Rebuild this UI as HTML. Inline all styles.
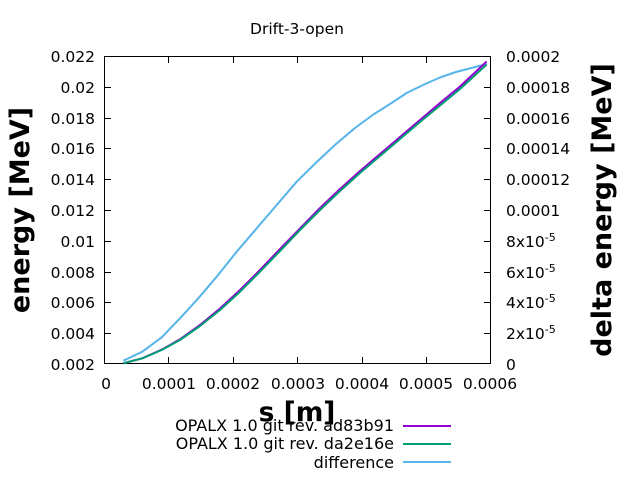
<!DOCTYPE html>
<html><head><style>
body{margin:0;background:#fff;}
svg{display:block;font-family:"DejaVu Sans","Liberation Sans",sans-serif;}
</style></head><body>
<svg width="640" height="480" viewBox="0 0 640 480">
<rect width="640" height="480" fill="#fff"/>
<text x="297" y="34" font-size="15.5" text-anchor="middle">Drift-3-open</text>
<rect x="104.5" y="56.5" width="386" height="307" fill="none" stroke="#000" stroke-width="1"/>
<g stroke="#000" stroke-width="1">
<path d="M168.5 364v-7M168.5 56v7M233.5 364v-7M233.5 56v7M297.5 364v-7M297.5 56v7M362.5 364v-7M362.5 56v7M426.5 364v-7M426.5 56v7"/>
<path d="M104 87.5h7M104 118.5h7M104 148.5h7M104 179.5h7M104 210.5h7M104 241.5h7M104 272.5h7M104 302.5h7M104 333.5h7"/>
<path d="M491 87.5h-7M491 118.5h-7M491 148.5h-7M491 179.5h-7M491 210.5h-7M491 241.5h-7M491 272.5h-7M491 302.5h-7M491 333.5h-7"/>
</g>
<g font-size="15.5" text-anchor="end">
<text x="95" y="62">0.022</text><text x="95" y="93">0.02</text><text x="95" y="124">0.018</text><text x="95" y="154">0.016</text><text x="95" y="185">0.014</text><text x="95" y="216">0.012</text><text x="95" y="247">0.01</text><text x="95" y="278">0.008</text><text x="95" y="308">0.006</text><text x="95" y="339">0.004</text><text x="95" y="370">0.002</text>
</g>
<g font-size="15.5">
<text x="506" y="62">0.0002</text><text x="506" y="93">0.00018</text><text x="506" y="124">0.00016</text><text x="506" y="154">0.00014</text><text x="506" y="185">0.00012</text><text x="506" y="216">0.0001</text><text x="506" y="247">8x10<tspan dy="-6" font-size="11">-5</tspan></text><text x="506" y="278">6x10<tspan dy="-6" font-size="11">-5</tspan></text><text x="506" y="308">4x10<tspan dy="-6" font-size="11">-5</tspan></text><text x="506" y="339">2x10<tspan dy="-6" font-size="11">-5</tspan></text><text x="506" y="370">0</text>
</g>
<g font-size="15.5" text-anchor="middle">
<text x="106" y="389">0</text><text x="169" y="389">0.0001</text><text x="233" y="389">0.0002</text><text x="298" y="389">0.0003</text><text x="362" y="389">0.0004</text><text x="426" y="389">0.0005</text><text x="490" y="389">0.0006</text>
</g>
<text x="297" y="421" font-size="26.5" font-weight="bold" text-anchor="middle">s [m]</text>
<text transform="translate(29,210) rotate(-90)" font-size="27" font-weight="bold" text-anchor="middle">energy [MeV]</text>
<text transform="translate(611,210) rotate(-90)" font-size="27" font-weight="bold" text-anchor="middle">delta energy [MeV]</text>
<g fill="none" stroke-width="2" stroke-linejoin="round">
<polyline stroke="#56b4e9" points="123.3,360.7 142.3,351.7 161.7,337.3 180,318.3 198.3,298.3 216.7,276.7 236.7,251.7 256.7,228.3 276.7,205 296.7,181.7 316.7,162 336,144 355,128 373.3,114.5 390,104 406.7,93 423,85 440,77.5 456,72 473.3,67.5 486.7,64"/>
<polyline stroke="#9400d3" points="123.3,363.3 142.3,358.3 161.7,349.7 180,339.3 200,325 220,308.5 240,290 260,270 280,249 300,228.5 320,208 340,189 360,171 380,154 400,137 420,120 440,103 460,86.5 486.7,61.5"/>
<polyline stroke="#009e73" points="123.3,363.3 142.3,358.3 161.7,350 180,340 200,326 220,310 240,291.7 260,271.7 280,251 300,230 320,210 340,191 360,173 380,156 400,139 420,122 440,105.5 460,89 486.7,64.5"/>
</g>
<g font-size="16" text-anchor="end">
<text x="394" y="431">OPALX 1.0 git rev. ad83b91</text>
<text x="394" y="449">OPALX 1.0 git rev. da2e16e</text>
<text x="394" y="468">difference</text>
</g>
<g stroke-width="2">
<line x1="403" y1="426" x2="451" y2="426" stroke="#9400d3"/>
<line x1="403" y1="444" x2="451" y2="444" stroke="#009e73"/>
<line x1="403" y1="462" x2="451" y2="462" stroke="#56b4e9"/>
</g>
</svg>
</body></html>
